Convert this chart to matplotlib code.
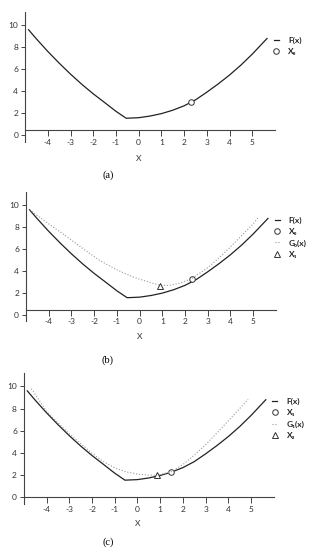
import matplotlib
matplotlib.use('Agg')
import matplotlib.pyplot as plt

plt.rcParams['font.family'] = ['Lato', 'DejaVu Sans']
plt.rcParams['axes.unicode_minus'] = False

# F(x) (same curve in all three panels)
f_x = [-4.85, -4.5, -4.0, -3.5, -3.0, -2.5, -2.0, -1.5, -1.0, -0.55,
       0.0, 0.5, 1.0, 1.5, 2.0, 2.5, 3.0, 3.5, 4.0, 4.5, 5.0, 5.65]
f_y = [9.6, 8.76, 7.62, 6.56, 5.56, 4.63, 3.77, 2.98, 2.18, 1.55,
       1.6, 1.75, 1.97, 2.28, 2.68, 3.22, 3.92, 4.67, 5.48, 6.38, 7.38, 8.8]

# G0(x), panel (b)
g0_x = [-4.85, -4.0, -3.25, -2.5, -1.75, -1.0, -0.3, 0.0, 0.5, 0.9,
        1.3, 1.8, 2.3, 3.0, 3.5, 4.0, 4.5, 5.0, 5.2]
g0_y = [9.6, 8.3, 7.2, 6.05, 4.95, 4.1, 3.45, 3.25, 2.92, 2.68,
        2.68, 2.9, 3.3, 4.3, 5.2, 6.2, 7.25, 8.3, 8.85]

# G1(x), panel (c)
g1_x = [-4.67, -4.0, -3.0, -2.0, -1.5, -1.0, -0.5, 0.0, 0.5, 0.9,
        1.48, 2.0, 2.5, 3.0, 3.5, 4.0, 4.5, 4.87]
g1_y = [9.8, 7.75, 5.72, 3.98, 3.22, 2.66, 2.3, 2.1, 2.0, 2.0,
        2.3, 2.95, 3.8, 4.75, 5.8, 6.9, 8.0, 8.85]

# iterate points (circle = current point, triangle = minimiser of G)
circ_a = (2.3, 3.05)
circ_b = (2.3, 3.3)
tri_b = (0.9, 2.65)
circ_c = (1.48, 2.3)
tri_c = (0.87, 2.05)

x_ticks = [-4, -3, -2, -1, 0, 1, 2, 3, 4, 5]
y_ticks = [0, 2, 4, 6, 8, 10]


def style_axes(ax, xaxis_at, xlab_y):
    ax.set_xlim(-5, 6)
    ax.set_ylim(-0.6, 11.2)
    ax.spines['top'].set_visible(False)
    ax.spines['right'].set_visible(False)
    ax.spines['bottom'].set_position(('data', xaxis_at))
    for s in ['left', 'bottom']:
        ax.spines[s].set_color('#444444')
        ax.spines[s].set_linewidth(0.8)
    ax.set_xticks(x_ticks)
    ax.set_yticks(y_ticks)
    ax.tick_params(axis='x', length=4, width=0.7, color='#444444',
                   labelsize=6, labelcolor='#333333', pad=2)
    ax.tick_params(axis='y', length=3, width=0.7, color='#444444',
                   labelsize=6, labelcolor='#333333', pad=2)
    ax.set_xlabel('X', fontsize=6, color='#333333')
    ax.xaxis.set_label_coords(0.456, xlab_y)


def draw_panel(ax, g_x, g_y, circ, tri, labels, xaxis_at, xlab_y):
    ax.plot(f_x, f_y, color='#222222', lw=0.9, label=labels[0])
    ax.plot(*circ, marker='o', ms=4, mfc='white', mec='#333333', mew=0.7,
            ls='none', label=labels[1])
    if g_x is not None:
        ax.plot(g_x, g_y, color='#999999', lw=0.8, ls=':', label=labels[2])
        ax.plot(*tri, marker='^', ms=4.5, mfc='white', mec='#333333', mew=0.7,
                ls='none', label=labels[3])
    style_axes(ax, xaxis_at, xlab_y)
    leg = ax.legend(loc='upper left', bbox_to_anchor=(0.995, 0.81), frameon=False,
                    fontsize=6, handlelength=0.6, handletextpad=1.1,
                    labelspacing=0.5, borderpad=0, borderaxespad=0)
    for t in leg.get_texts():
        t.set_fontweight('bold')
        t.set_color('#222222')


fig = plt.figure(figsize=(3.1, 5.5), dpi=100)

ax_a = fig.add_axes([0.081, 0.742, 0.806, 0.236])
draw_panel(ax_a, None, None, circ_a, None, ['F(x)', 'X₀'], 0.45, -0.10)

ax_b = fig.add_axes([0.084, 0.416, 0.806, 0.2345])
draw_panel(ax_b, g0_x, g0_y, circ_b, tri_b, ['F(x)', 'X₀', 'G₀(x)', 'X₁'],
           0.45, -0.095)

ax_c = fig.add_axes([0.077, 0.0836, 0.806, 0.238])
draw_panel(ax_c, g1_x, g1_y, circ_c, tri_c, ['F(x)', 'X₁', 'G₁(x)', 'X₂'],
           0.0, -0.12)

for lab, y in [('(a)', 175), ('(b)', 360), ('(c)', 542)]:
    fig.text(108 / 310, 1 - y / 550, lab, ha='center', va='center',
             fontsize=7.5, family='Liberation Serif')

fig.savefig('out.png', dpi=100)
